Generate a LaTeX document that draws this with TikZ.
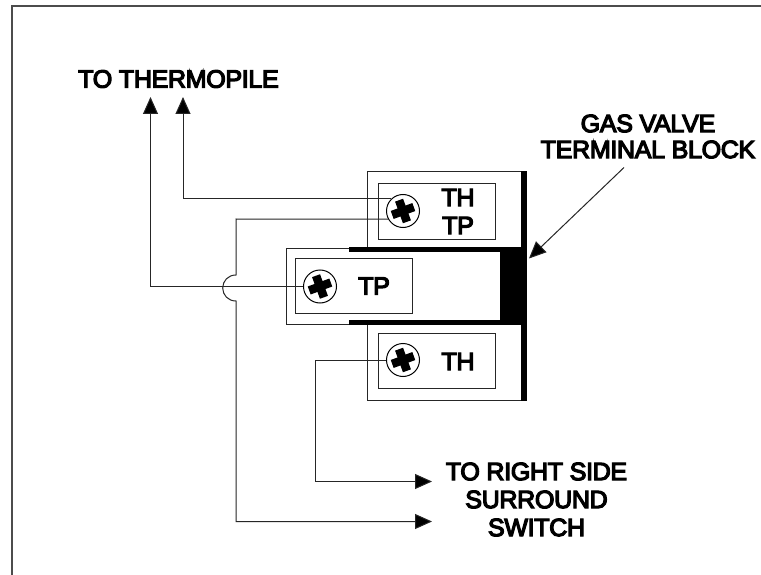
\documentclass[tikz,border=0pt]{standalone}
\usepackage{fontspec}
\setmainfont{Liberation Sans}[LetterSpace=-1.2,FakeBold=5]
\usetikzlibrary{arrows.meta}
\tikzset{
  x=1pt,y=-1pt,
  wire/.style={line width=1pt,black!85},
  tipwire/.style={wire,-{Triangle[length=17pt,width=15pt,fill=black]}},
  frameline/.style={line width=1.6pt,black!70},
  blockline/.style={line width=1pt,black!85},
  inner box/.style={draw=black!85,line width=1pt,inner sep=0pt,fill=white},
  screwhead/.style={circle,draw=black,line width=1pt,minimum size=33pt,inner sep=0pt,fill=white},
  lbl/.style={inner sep=0pt,align=center,font=\fontsize{25}{27}\selectfont,text=black},
  cross arm/.style={line width=8.5pt,black,line cap=butt,line join=round}
}
\newcommand{\screwcross}[1]{%
  \draw[cross arm,shift={(#1.center)},rotate=20] (-11.5,0) -- (11.5,0);
  \draw[cross arm,shift={(#1.center)},rotate=20] (0,-11.5) -- (0,11.5);
}
\begin{document}
\begin{tikzpicture}
\useasboundingbox (0,0) rectangle (761,575);
\fill[white] (0,0) rectangle (761,575);
% frame
\draw[frameline] (12,575) -- (12,6) -- (761,6);
% block outlines
\draw[blockline] (526,172) -- (367,172) -- (367,247);
\draw[blockline] (367,325) -- (367,400.5) -- (526,400.5);
\draw[blockline] (349,248) -- (286,248) -- (286,324.5) -- (349,324.5);
% black parts
\fill[black] (521,171.5) rectangle (527,401);
\fill[black] (349,247.3) rectangle (521,252.3);
\fill[black] (349,319.5) rectangle (521,325);
\fill[black] (499.5,247.3) rectangle (521,325);
% terminal plates
\node[inner box,minimum width=117pt,minimum height=55pt] (plateA) at (436.5,211.5) {};
\node[inner box,minimum width=117pt,minimum height=55pt] (plateB) at (354,286) {};
\node[inner box,minimum width=117pt,minimum height=55pt] (plateC) at (436.5,361) {};
% screws
\node[screwhead] (screwA) at (403,211) {};
\node[screwhead] (screwB) at (320,286.5) {};
\node[screwhead] (screwC) at (403,360) {};
\screwcross{screwA}
\screwcross{screwB}
\screwcross{screwC}
% plate labels
\node[lbl] (thA) at (458,197.5) {TH};
\node[lbl] (tpA) at (458,225.5) {TP};
\node[lbl] (tpB) at (374,286) {TP};
\node[lbl] (thC) at (458,361.5) {TH};
% outer labels
\node[lbl] (thermo) at (178.5,79) {TO THERMOPILE};
\node[lbl] (gas) at (648,136.5) {GAS VALVE\\[-1pt]TERMINAL BLOCK};
\node[lbl] (rightside) at (536.5,499.5) {TO RIGHT SIDE\\[1pt]SURROUND\\[1pt]SWITCH};
% free ends
\coordinate (endA) at (183,97);
\coordinate (endB) at (150.5,97);
\coordinate (endC) at (432,481.5);
\coordinate (endD) at (432,521.5);
\coordinate (endE) at (529,258.5);
\coordinate (startE) at (624,167.5);
\coordinate (bendTP) at (236,219);
\coordinate (hopTop) at (236,275);
\coordinate (hopBot) at (236,301);
\coordinate (hopMid) at (222.7,288);
\coordinate (bendD) at (236,521.5);
\coordinate (bendC) at (315,360);
\coordinate (bendC2) at (315,481.5);
% connectors
\draw[tipwire] (screwA.133) -| (endA);
\draw[tipwire] (screwB.west) -| (endB);
\draw[tipwire] (screwC.west) -- (bendC) -- (bendC2) -- (endC);
\draw[tipwire] (screwA.209) -- (bendTP) -- (hopTop)
  .. controls +(-8,0) and +(0,-7) .. (hopMid)
  .. controls +(0,7) and +(-8,0) .. (hopBot) -- (bendD) -- (endD);
\draw[tipwire] (startE) -- (endE);
\end{tikzpicture}
\end{document}
